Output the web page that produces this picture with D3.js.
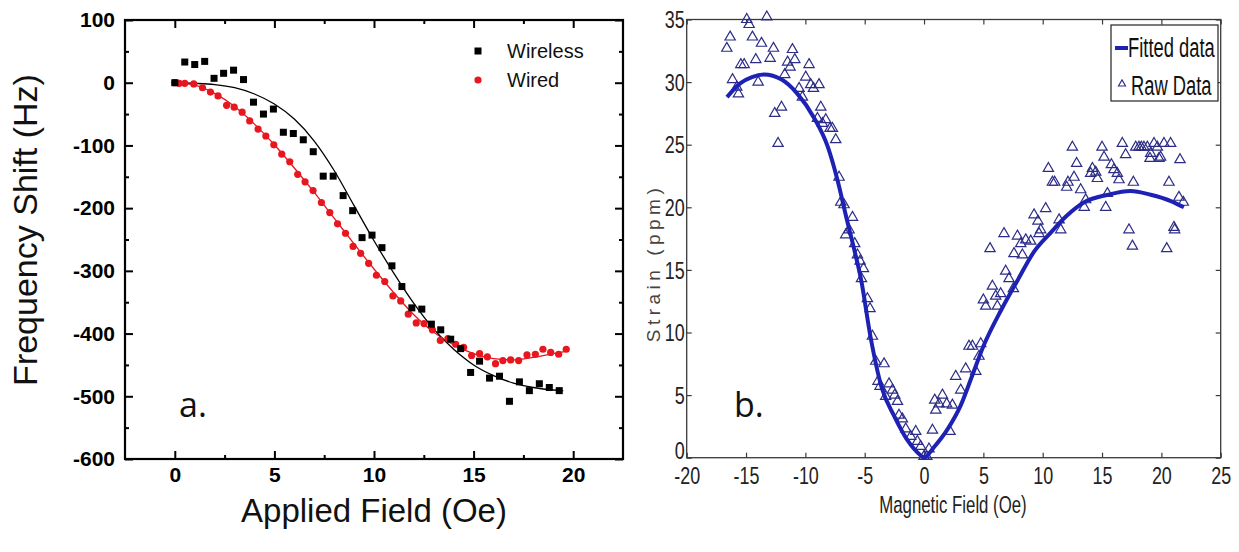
<!DOCTYPE html>
<html>
<head>
<meta charset="utf-8">
<script src="https://cdn.jsdelivr.net/npm/d3@7"></script>
<style>
  body { margin: 0; background: #fff; }
  svg { display: block; }
</style>
</head>
<body>
<svg id="chart" width="1239" height="552"></svg>
<script>
// ---------- Panel a: frequency shift vs applied field ----------
const wirelessField = [0, 0.5, 1.0, 1.5, 1.97, 2.45, 2.95, 3.45, 3.95, 4.45, 4.95, 5.45, 5.95, 6.45, 6.95, 7.45, 7.95, 8.45, 8.93, 9.4,
  9.9, 10.4, 10.9, 11.4, 11.9, 12.4, 12.88, 13.35, 13.85, 14.35, 14.85, 15.3, 15.8, 16.3, 16.8, 17.3, 17.8, 18.3, 18.8, 19.3];
const wirelessShift = [0, 33, 29, 34, 7, 15, 20, 5, -31, -50, -42, -79, -81, -91, -110, -149, -149, -180, -204, -247,
  -243, -263, -292, -325, -359, -361, -385, -394, -409, -424, -462, -444, -471, -468, -508, -477, -491, -480, -486, -491];

const wiredField = [0, 0.22, 0.5, 0.95, 1.39, 1.79, 2.17, 2.6, 2.98, 3.38, 3.76, 4.18, 4.57, 4.97, 5.37, 5.77, 6.17, 6.54, 6.94, 7.36,
  7.78, 8.17, 8.57, 8.95, 9.33, 9.73, 10.12, 10.54, 10.95, 11.34, 11.72, 12.12, 12.51, 12.93, 13.33, 13.71, 14.1, 14.5, 14.9, 15.3,
  15.69, 16.1, 16.47, 16.86, 17.26, 17.68, 18.1, 18.48, 18.87, 19.27, 19.65];
const wiredShift = [0, -1, -1, -2, -8, -15, -21, -36, -39, -47, -61, -74, -85, -99, -114, -126, -146, -158, -172, -191,
  -207, -225, -240, -261, -272, -288, -307, -317, -340, -348, -369, -383, -384, -394, -411, -408, -417, -422, -435, -432,
  -437, -448, -443, -442, -443, -434, -433, -425, -430, -433, -425];

const wirelessFitField = [0, 1, 2, 3, 4, 5, 6, 7, 8, 9, 10, 11, 12, 13, 14, 15, 16, 17, 18, 19, 19.5];
const wirelessFitShift = [0, -1, -3, -8, -18, -34, -58, -93, -140, -196, -252, -304, -352, -393, -425, -450, -467, -479, -486, -490, -491];

const wiredFitField = [0, 1, 2, 3, 4, 5, 6, 7, 8, 9, 10, 11, 12, 13, 14, 15, 16, 17, 18, 19, 19.7];
const wiredFitShift = [0, -4, -17, -38, -66, -99, -136, -175, -216, -257, -297, -335, -370, -398, -418, -432, -440, -442, -438, -432, -428];

const fieldTicksA = [0, 5, 10, 15, 20];
const shiftTicksA = [100, 0, -100, -200, -300, -400, -500, -600];
const seriesNamesA = ["Wireless", "Wired"];

// ---------- Panel b: strain vs magnetic field ----------
const rawField = [-16.62, -16.34, -16.14, -15.78, -15.64, -15.44, -15.16, -14.94, -14.74, -14.46, -14.18, -13.98, -13.7, -13.25, -12.97,
  -12.69, -12.58, -12.3, -12.01, -11.74, -11.5, -11.29, -11.09, -10.89, -10.53, -10.25, -9.97, -9.69, -9.55, -9.32, -8.85, -8.7,
  -8.98, -8.56, -8.28, -7.92, -7.72, -7.44, -7.16, -7.02, -6.74, -6.03, -6.6, -6.32, -5.84,
  -5.61, -5.39, -5.1, -5.27, -4.77, -4.55, -4.35, -4.07, -3.37, -3.88, -3.71, -2.95, -2.66, -3.23, -2.47, -2.24, -2.11, -1.82,
  -1.54, -1.12, -0.7, -0.56, -0.28, 0, 0.23, 0.42, 0.71, 0.99, 0.9, 1.26, 1.55, 1.91, 2.19, 2.39, 2.67, 3.09, 3.51, 3.79,
  4.08, 4.36, 4.63, 4.78, 5.0, 5.2, 5.56, 5.76, 6.04, 6.18, 6.46, 6.74, 6.88, 7.16, 7.58, 7.53, 7.87, 8.15, 8.29, 8.57, 8.99,
  9.69, 11.52, 17.27, 17.56, 20.45, 21.12,
  9.27, 9.6, 9.83, 10.25, 10.48, 10.82, 11.01, 11.38, 12.02, 12.13, 12.5, 12.64, 12.86, 13.2, 13.62, 13.5, 14.04, 14.19, 14.47,
  14.61, 15.0, 15.17, 15.31, 15.45, 15.79, 16.0, 16.29, 16.43, 16.71, 16.99, 17.64, 17.84, 18.11, 18.31, 18.53, 18.82, 19.1,
  19.04, 19.38, 19.66, 19.8, 19.94, 20.22, 20.64, 20.78, 21.57, 21.48, 21.85, 21.06];
const rawStrain = [32.7, 33.6, 30.2, 29.6, 29.05, 31.4, 31.4, 35.0, 34.6, 33.6, 31.8, 30.0, 33.1, 35.2, 31.9,
  32.7, 27.5, 25.1, 28.0, 30.6, 31.6, 31.2, 32.6, 31.8, 29.5, 28.8, 30.4, 31.4, 29.8, 29.5, 29.8, 28.0,
  27.1, 26.7, 27.0, 26.3, 26.3, 25.4, 22.4, 20.4, 20.2, 19.2, 17.8, 18.2, 17.1,
  16.2, 15.7, 15.1, 14.3, 12.7, 11.9, 9.7, 7.7, 7.5, 6.1, 5.7, 5.9, 5.4, 4.9, 5.0, 4.5, 3.4, 3.1,
  2.3, 1.7, 2.1, 1.3, 0.9, 0.1, 0.1, 0.7, 2.2, 3.8, 4.6, 4.3, 5.0, 4.3, 2.1, 4.2, 6.5, 5.4, 7.1, 8.9,
  8.9, 6.9, 8.1, 9.1, 12.6, 12.1, 16.7, 13.7, 12.9, 12.1, 13.1, 17.9, 14.9, 14.3, 16.3, 13.5, 17.7, 17.1, 16.2, 17.4, 17.3,
  17.9, 18.2, 18.2, 16.9, 16.7, 18.2,
  19.4, 18.9, 18.2, 19.9, 23.1, 22.0, 22.0, 19.0, 21.6, 22.0, 24.8, 22.4, 23.5, 21.4, 20.6, 20.0, 22.7, 23.1, 22.8,
  22.3, 24.8, 24.0, 20.0, 21.1, 23.4, 23.0, 22.7, 22.2, 25.1, 24.2, 22.0, 24.8, 24.8, 24.8, 24.8, 24.8, 24.3,
  23.9, 25.1, 24.8, 23.9, 24.0, 25.1, 22.0, 25.1, 23.8, 20.8, 20.4, 18.4];

const fitField = [-16.6, -15.5, -14.5, -13.5, -12, -10.7, -9.3, -8.1, -7.3, -6.5, -5.9, -5.3, -4.5, -3.6, -2.5, -1.4, -0.3, 0,
  0.8, 2, 3.1, 4, 5, 6.5, 7.9, 9.3, 10.7, 12, 13.5, 15.5, 17.4, 19.1, 20.8, 21.9];
const fitStrain = [28.8, 29.9, 30.4, 30.6, 30.2, 29.1, 27.2, 24.8, 22.2, 19.0, 16.7, 14.2, 9.6, 5.7, 3.3, 1.4, 0.2, 0,
  0.8, 2.3, 4.2, 6.4, 8.9, 11.8, 14.2, 16.5, 18.0, 19.3, 20.4, 21.0, 21.3, 21.0, 20.5, 20.0];

const fieldTicksB = [-20, -15, -10, -5, 0, 5, 10, 15, 20, 25];
const strainTicksB = [0, 5, 10, 15, 20, 25, 30, 35];
const seriesNamesB = ["Fitted data", "Raw Data"];

const svg = d3.select("#chart");
const SANS = "'Liberation Sans', Arial, sans-serif";
const plain = d => String(d);   // ASCII hyphen for negative numbers

// Horizontally squeeze text about its own anchor to mimic a narrow face
function condense(sel, k) {
  sel.each(function () {
    const t = d3.select(this);
    const x = +t.attr("x") || 0;
    t.attr("transform", `translate(${x},0) scale(${k},1) translate(${-x},0)`);
  });
}

function tickAxis(g, axis, transform) {
  const a = g.append("g").attr("transform", transform).call(axis);
  a.select(".domain").remove();
  return a;
}

// ================= Panel a =================
const xA = d3.scaleLinear().domain([-2.5, 22.5]).range([125, 623]);
const yA = d3.scaleLinear().domain([-600, 100]).range([459, 20]);
const gA = svg.append("g");
const minorX = [2.5, 7.5, 12.5, 17.5];
const minorY = d3.range(-550, 100, 100);

// ticks (all pointing inward)
const axBottomA = tickAxis(gA, d3.axisBottom(xA).tickValues(fieldTicksA).tickFormat(plain).tickSize(-8).tickPadding(8), `translate(0,${yA.range()[0]})`);
tickAxis(gA, d3.axisBottom(xA).tickValues(minorX).tickSize(-4).tickFormat(""), `translate(0,${yA.range()[0]})`);
tickAxis(gA, d3.axisTop(xA).tickValues(fieldTicksA).tickSize(-8).tickFormat(""), `translate(0,${yA.range()[1]})`);
tickAxis(gA, d3.axisTop(xA).tickValues(minorX).tickSize(-4).tickFormat(""), `translate(0,${yA.range()[1]})`);
const axLeftA = tickAxis(gA, d3.axisLeft(yA).tickValues(shiftTicksA).tickFormat(plain).tickSize(-8).tickPadding(10), `translate(${xA.range()[0]},0)`);
tickAxis(gA, d3.axisLeft(yA).tickValues(minorY).tickSize(-4).tickFormat(""), `translate(${xA.range()[0]},0)`);
tickAxis(gA, d3.axisRight(yA).tickValues(shiftTicksA).tickSize(-8).tickFormat(""), `translate(${xA.range()[1]},0)`);
tickAxis(gA, d3.axisRight(yA).tickValues(minorY).tickSize(-4).tickFormat(""), `translate(${xA.range()[1]},0)`);

gA.selectAll(".tick line").attr("stroke", "#000").attr("stroke-width", 2);
[axBottomA, axLeftA].forEach(a => a.selectAll("text")
  .attr("font-family", SANS).attr("font-size", 21).attr("font-weight", "bold").attr("fill", "#000"));

gA.append("rect")
  .attr("x", xA.range()[0]).attr("y", yA.range()[1])
  .attr("width", xA.range()[1] - xA.range()[0]).attr("height", yA.range()[0] - yA.range()[1])
  .attr("fill", "none").attr("stroke", "#000").attr("stroke-width", 2.2);

// fitted curves
const lineA = d3.line().curve(d3.curveMonotoneX);
gA.append("path")
  .attr("d", lineA(wiredFitField.map((f, i) => [xA(f), yA(wiredFitShift[i])])))
  .attr("fill", "none").attr("stroke", "#e8161e").attr("stroke-width", 1.3);
gA.append("path")
  .attr("d", lineA(wirelessFitField.map((f, i) => [xA(f), yA(wirelessFitShift[i])])))
  .attr("fill", "none").attr("stroke", "#000").attr("stroke-width", 1.3);

// measured points
gA.append("g").selectAll("circle").data(wiredField).join("circle")
  .attr("cx", d => xA(d)).attr("cy", (d, i) => yA(wiredShift[i])).attr("r", 3.6)
  .attr("fill", "#e8161e");
gA.append("g").selectAll("rect").data(wirelessField).join("rect")
  .attr("x", d => xA(d) - 3.5).attr("y", (d, i) => yA(wirelessShift[i]) - 3.5)
  .attr("width", 7).attr("height", 7).attr("fill", "#000");

// legend
gA.append("rect").attr("x", 474.5).attr("y", 47.5).attr("width", 7).attr("height", 7).attr("fill", "#000");
gA.append("circle").attr("cx", 478).attr("cy", 80).attr("r", 3.6).attr("fill", "#e8161e");
gA.selectAll("text.leg").data(seriesNamesA).join("text").attr("class", "leg")
  .attr("x", 507).attr("y", (d, i) => 58 + i * 29)
  .attr("font-family", SANS).attr("font-size", 20).attr("fill", "#111").text(d => d);

// axis titles
gA.append("text").attr("x", 374).attr("y", 522).attr("text-anchor", "middle")
  .attr("font-family", SANS).attr("font-size", 33).attr("fill", "#111").text("Applied Field (Oe)");
gA.append("text").attr("transform", "translate(37,230) rotate(-90)").attr("text-anchor", "middle")
  .attr("font-family", SANS).attr("font-size", 34).attr("fill", "#111").text("Frequency Shift (Hz)");
gA.append("text").attr("x", 179).attr("y", 417)
  .attr("font-family", "'Open Sans', sans-serif").attr("font-size", 34).attr("fill", "#111").text("a.");

// ================= Panel b =================
const xB = d3.scaleLinear().domain([-20, 25]).range([686.7, 1220.7]);
const yB = d3.scaleLinear().domain([0, 35]).range([457.7, 19.5]);
const gB = svg.append("g");
const AX = "#3a3a3a";

const axBottomB = tickAxis(gB, d3.axisBottom(xB).tickValues(fieldTicksB).tickFormat(plain).tickSize(-5).tickPadding(10), `translate(0,${yB.range()[0]})`);
tickAxis(gB, d3.axisTop(xB).tickValues(fieldTicksB).tickSize(-5).tickFormat(""), `translate(0,${yB.range()[1]})`);
const axLeftB = tickAxis(gB, d3.axisLeft(yB).tickValues(strainTicksB).tickFormat(plain).tickSize(-5).tickPadding(2), `translate(${xB.range()[0]},0)`);
tickAxis(gB, d3.axisRight(yB).tickValues(strainTicksB).tickSize(-5).tickFormat(""), `translate(${xB.range()[1]},0)`);
gB.selectAll(".tick line").attr("stroke", AX).attr("stroke-width", 1.2);
[axBottomB, axLeftB].forEach(a => {
  a.selectAll("text").attr("font-family", SANS).attr("font-size", 23).attr("fill", "#222");
  condense(a.selectAll("text"), 0.78);
});
axLeftB.selectAll("text").attr("dy", (d) => d === 0 ? "0.03em" : "0.36em");

gB.append("rect")
  .attr("x", xB.range()[0]).attr("y", yB.range()[1])
  .attr("width", xB.range()[1] - xB.range()[0]).attr("height", yB.range()[0] - yB.range()[1])
  .attr("fill", "none").attr("stroke", AX).attr("stroke-width", 1.3);

// raw measurements
const tri = d3.symbol().type(d3.symbolTriangle).size(46);
gB.append("g").selectAll("path").data(rawField).join("path")
  .attr("d", tri)
  .attr("transform", (d, i) => `translate(${xB(d)},${yB(rawStrain[i])})`)
  .attr("fill", "none").attr("stroke", "#2c2c86").attr("stroke-width", 1.2);

// fitted curve
const lineB = d3.line().curve(d3.curveMonotoneX);
gB.append("path")
  .attr("d", lineB(fitField.map((f, i) => [xB(f), yB(fitStrain[i])])))
  .attr("fill", "none").attr("stroke", "#1e22b4").attr("stroke-width", 4);

// legend
const leg = gB.append("g");
leg.append("rect").attr("x", 1111).attr("y", 25).attr("width", 107).attr("height", 76)
  .attr("fill", "#fff").attr("stroke", "#222").attr("stroke-width", 1.2);
leg.append("line").attr("x1", 1115).attr("x2", 1128).attr("y1", 48).attr("y2", 48)
  .attr("stroke", "#1e22b4").attr("stroke-width", 4);
leg.append("path").attr("d", d3.symbol().type(d3.symbolTriangle).size(22)())
  .attr("transform", "translate(1122,84)").attr("fill", "none").attr("stroke", "#2c2c86").attr("stroke-width", 1.1);
const legText = leg.selectAll("text").data(seriesNamesB).join("text")
  .attr("x", (d, i) => i === 0 ? 1128 : 1131).attr("y", (d, i) => 57 + i * 38)
  .attr("font-family", SANS).attr("font-size", 27).attr("fill", "#111").text(d => d);
condense(legText, 0.68);

// axis titles
const xt = gB.append("text").attr("x", 953).attr("y", 513).attr("text-anchor", "middle")
  .attr("font-family", SANS).attr("font-size", 24).attr("fill", "#222").text("Magnetic Field (Oe)");
condense(xt, 0.7);
gB.append("text").attr("transform", "translate(660,263) rotate(-90)").attr("text-anchor", "middle")
  .attr("font-family", SANS).attr("font-size", 19).attr("letter-spacing", 4.5).attr("fill", "#444").text("Strain (ppm)");
gB.append("text").attr("x", 734).attr("y", 417)
  .attr("font-family", "'Open Sans', sans-serif").attr("font-size", 34).attr("fill", "#111").text("b.");
</script>
</body>
</html>
